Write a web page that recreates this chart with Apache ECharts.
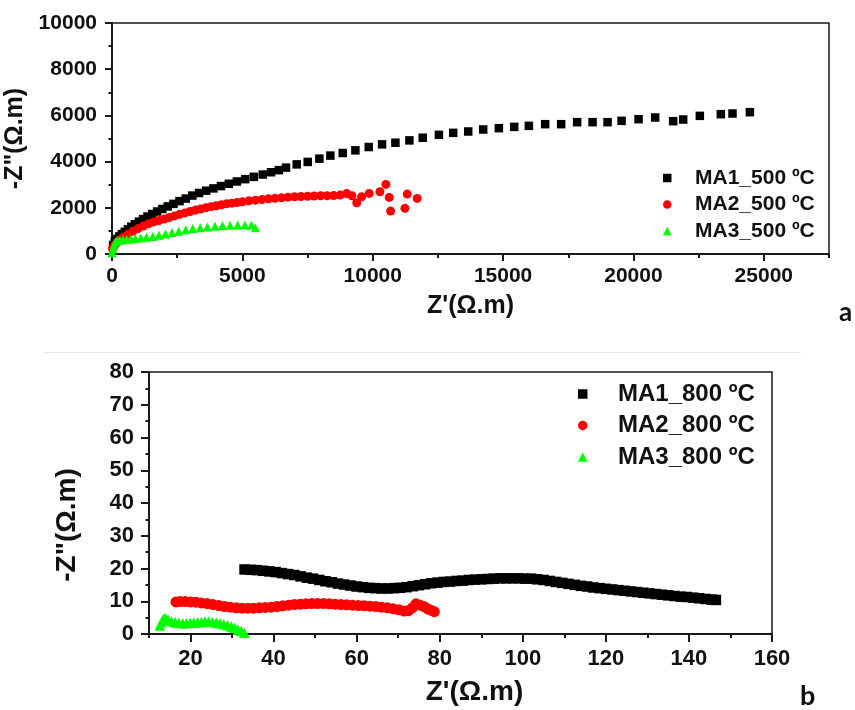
<!DOCTYPE html>
<html>
<head>
<meta charset="utf-8">
<script src="https://cdn.jsdelivr.net/npm/echarts@6/dist/echarts.min.js"></script>
<style>
  html, body { margin: 0; padding: 0; background: #fff; }
  #c { width: 855px; height: 710px; }
</style>
</head>
<body>
<div id="c"></div>
<script>
// ---------- Panel a: impedance at 500 ºC ----------
const ma1_500_re = [40,110,190,280,380,490,610,740,880,1030,1190,1360,1540,1730,1930,2140,2360,2590,2830,3080,
  3340,3610,3890,4180,4480,4790,5110,5440,5780,6100,6400,6675,7084,7506,7954,8376,8849,9335,9847,10358,
  10870,11407,11918,12539,13087,13662,14237,14838,15426,15989,16614,17228,17841,18432,19007,19544,20196,20833,21523,21907,
  22546,23351,23799,24466];
const ma1_500_im = [390,530,650,760,860,960,1070,1180,1290,1400,1510,1620,1730,1840,1950,2060,2170,2290,2400,2530,
  2640,2740,2840,2940,3040,3140,3240,3340,3440,3540,3630,3740,3880,3986,4129,4260,4373,4488,4631,4746,
  4817,4918,5032,5158,5244,5303,5390,5447,5504,5547,5620,5620,5707,5707,5707,5765,5836,5909,5750,5822,
  5980,6053,6082,6139];

const ma2_500_re = [20,100,200,320,460,620,800,1000,1200,1400,1600,1800,2000,2200,2400,2600,2800,3000,3200,3400,
  3600,3800,4000,4200,4400,4600,4800,5000,5250,5500,5750,6000,6250,6500,6750,7000,7250,7500,7750,8000,
  8250,8500,8750,9003,9200,9387,9573,9866,10276,10506,10633,10686,11235,11323,11706];
const ma2_500_im = [230,380,500,620,740,860,980,1100,1210,1310,1390,1450,1510,1580,1650,1720,1780,1840,1900,1950,
  2000,2050,2090,2130,2170,2200,2230,2260,2300,2330,2360,2390,2410,2430,2460,2480,2490,2500,2510,2520,
  2520,2530,2550,2620,2520,2218,2479,2624,2694,3013,2451,1859,1976,2594,2408];

const ma3_500_re = [0,40,80,130,200,300,420,560,720,900,1100,1320,1560,1800,2050,2300,2560,2830,3100,3380,
  3660,3950,4240,4530,4820,5100,5350,5500];
const ma3_500_im = [50,220,380,520,580,600,620,630,650,670,690,720,760,810,870,930,990,1050,1100,1140,
  1170,1200,1230,1250,1260,1260,1240,1140];

// ---------- Panel b: impedance at 800 ºC ----------
const ma1_800_re = [33,34.5,36,37.5,39,40.5,42,43.5,45,46.5,48,49.5,51,52.5,54,55.5,57,58.5,60,61.5,
  63,64.5,66,67.5,69,70.5,72,73.5,75,76.5,78,79.5,81,82.5,84,85.5,87,88.5,90,91.5,
  93,94.5,96,97.5,99,100.5,102,103.5,105,106.5,108,109.5,111,112.5,114,115.5,117,118.5,120,121.5,
  123,124.5,126,127.5,129,130.5,132,133.5,135,136.5,138,139.5,141,142.5,144,145.5,146.5];
const ma1_800_im = [19.7,19.6,19.5,19.3,19.1,18.9,18.6,18.3,18.0,17.6,17.2,16.9,16.5,16.1,15.8,15.4,15.1,14.8,14.5,14.3,
  14.1,14.0,13.9,13.9,14.0,14.1,14.3,14.6,14.9,15.2,15.5,15.7,15.9,16.0,16.2,16.3,16.5,16.6,16.7,16.8,
  16.9,17.0,17.0,17.0,17.0,16.9,16.9,16.7,16.5,16.2,15.9,15.6,15.3,15.0,14.7,14.5,14.2,14.0,13.8,13.6,
  13.4,13.2,13.0,12.8,12.6,12.4,12.2,12.0,11.8,11.6,11.4,11.3,11.1,10.9,10.7,10.5,10.4];

const ma2_800_re = [16.5,17.5,18.7,20,21.3,22.6,24,25.4,26.8,28.2,29.6,31,32.4,33.8,35.2,36.6,38,39.4,40.8,42.2,
  43.6,45,46.4,47.8,49.2,50.6,52,53.4,54.8,56.2,57.6,59,60.4,61.8,63.2,64.6,66,67.4,68.8,70.2,
  71.4,72.4,73.4,74.3,75.3,76.3,77.2,78.0,78.7];
const ma2_800_im = [9.8,9.9,9.9,9.8,9.7,9.5,9.3,9.0,8.7,8.4,8.2,8.0,7.9,7.9,7.9,8.0,8.1,8.2,8.4,8.6,
  8.8,9.0,9.1,9.2,9.3,9.3,9.3,9.2,9.1,9.0,8.9,8.8,8.7,8.6,8.5,8.4,8.2,8.0,7.7,7.4,
  7.0,7.1,8.0,9.2,8.8,8.3,7.6,7.2,6.8];

const ma3_800_re = [12.6,13.0,13.4,13.9,14.6,15.4,16.3,17.2,18.1,19.0,19.9,20.8,21.7,22.6,23.5,24.4,25.3,26.2,27.1,28.0,
  28.9,29.8,30.6,31.4,32.2,33.0];
const ma3_800_im = [2.6,3.6,4.5,4.9,4.4,3.9,3.6,3.4,3.3,3.3,3.4,3.5,3.6,3.7,3.8,3.8,3.7,3.5,3.3,3.0,
  2.7,2.3,1.9,1.4,0.9,0.4];

// Tick positions
const topXMajor = [0, 5000, 10000, 15000, 20000, 25000];
const botXMajor = [20, 40, 60, 80, 100, 120, 140, 160];

const names500 = ['MA1_500 ºC', 'MA2_500 ºC', 'MA3_500 ºC'];
const names800 = ['MA1_800 ºC', 'MA2_800 ºC', 'MA3_800 ºC'];

const FONT = '"Liberation Sans", Arial, Helvetica, sans-serif';
const INK = '#111';
const zip = (xs, ys) => xs.map((x, i) => [x, ys[i]]);
const plain = v => String(v);

const lineStyle = { color: '#1a1a1a', width: 2 };
const tickLabel = (size, margin) => ({ fontSize: size, fontWeight: 'bold', color: INK, fontFamily: FONT, margin: margin, formatter: plain });
const titleStyle = (size, extra) => Object.assign({ fontSize: size, fontWeight: 'bold', color: INK, fontFamily: FONT }, extra || {});

const chart = echarts.init(document.getElementById('c'), null, { renderer: 'canvas' });

chart.setOption({
  animation: false,
  backgroundColor: '#fff',
  textStyle: { fontFamily: FONT },
  grid: [
    { left: 112, top: 23, width: 717, height: 231, show: true, borderColor: '#1a1a1a', borderWidth: 1.5,
      containLabel: false, outerBoundsMode: 'none' },
    { left: 149, top: 372, width: 623, height: 262, show: true, borderColor: '#1a1a1a', borderWidth: 1.5,
      containLabel: false, outerBoundsMode: 'none' }
  ],
  xAxis: [
    { // panel a, major ticks and labels
      gridIndex: 0, type: 'value', min: 0, max: 27500, interval: 5000, position: 'bottom',
      axisLine: { show: true, onZero: false, lineStyle: lineStyle },
      axisTick: { show: true, length: 7, lineStyle: lineStyle, customValues: topXMajor },
      axisLabel: Object.assign(tickLabel(21, 12), { customValues: topXMajor }),
      splitLine: { show: false },
      name: "Z'(Ω.m)", nameLocation: 'middle', nameGap: 40, nameTextStyle: titleStyle(25)
    },
    { // panel a, minor ticks
      gridIndex: 0, type: 'value', min: 0, max: 27500, interval: 2500, position: 'bottom',
      axisLine: { show: false }, axisTick: { show: true, length: 4, lineStyle: lineStyle },
      axisLabel: { show: false }, splitLine: { show: false }
    },
    { // panel b, major ticks and labels
      gridIndex: 1, type: 'value', min: 10, max: 160, interval: 10, position: 'bottom',
      axisLine: { show: true, onZero: false, lineStyle: lineStyle },
      axisTick: { show: true, length: 8, lineStyle: lineStyle, customValues: botXMajor },
      axisLabel: Object.assign(tickLabel(22, 14), { customValues: botXMajor }),
      splitLine: { show: false },
      name: "Z'(Ω.m)", nameLocation: 'middle', nameGap: 44,
      nameTextStyle: titleStyle(28, { padding: [0, 0, 0, 28] })
    },
    { // panel b, minor ticks
      gridIndex: 1, type: 'value', min: 10, max: 160, interval: 10, position: 'bottom',
      axisLine: { show: false }, axisTick: { show: true, length: 4, lineStyle: lineStyle },
      axisLabel: { show: false }, splitLine: { show: false }
    }
  ],
  yAxis: [
    {
      gridIndex: 0, type: 'value', min: 0, max: 10000, interval: 2000, position: 'left',
      axisLine: { show: true, onZero: false, lineStyle: lineStyle },
      axisTick: { show: true, length: 7, lineStyle: lineStyle },
      minorTick: { show: true, splitNumber: 2, length: 3.5, lineStyle: lineStyle },
      axisLabel: tickLabel(21, 15),
      splitLine: { show: false }, minorSplitLine: { show: false },
      name: '-Z"(Ω.m)', nameLocation: 'middle', nameGap: 74, nameTextStyle: titleStyle(25)
    },
    {
      gridIndex: 1, type: 'value', min: 0, max: 80, interval: 10, position: 'left',
      axisLine: { show: true, onZero: false, lineStyle: lineStyle },
      axisTick: { show: true, length: 8, lineStyle: lineStyle },
      minorTick: { show: true, splitNumber: 2, length: 3.5, lineStyle: lineStyle },
      axisLabel: tickLabel(22, 15),
      splitLine: { show: false }, minorSplitLine: { show: false },
      name: '-Z"(Ω.m)', nameLocation: 'middle', nameGap: 68,
      nameTextStyle: titleStyle(28, { padding: [0, 44, 0, 0] })
    }
  ],
  legend: [
    {
      data: names500, orient: 'vertical', left: 663, top: 166, padding: 0,
      itemWidth: 8.5, itemHeight: 8.5, itemGap: 2.5,
      textStyle: { fontSize: 21, fontWeight: 'bold', color: INK, fontFamily: FONT, lineHeight: 24, padding: [0, 0, 0, 18.5] }
    },
    {
      data: names800, orient: 'vertical', left: 578, top: 380, padding: 0,
      itemWidth: 9.5, itemHeight: 9.5, itemGap: 3.5,
      textStyle: { fontSize: 24, fontWeight: 'bold', color: INK, fontFamily: FONT, lineHeight: 28, padding: [0, 0, 0, 25.5] }
    }
  ],
  series: [
    { name: names500[0], type: 'scatter', xAxisIndex: 0, yAxisIndex: 0, symbol: 'rect', symbolSize: 8.5,
      itemStyle: { color: '#000', opacity: 1 }, data: zip(ma1_500_re, ma1_500_im) },
    { name: names500[1], type: 'scatter', xAxisIndex: 0, yAxisIndex: 0, symbol: 'circle', symbolSize: 9,
      itemStyle: { color: '#ff0000', opacity: 1 }, data: zip(ma2_500_re, ma2_500_im) },
    { name: names500[2], type: 'scatter', xAxisIndex: 0, yAxisIndex: 0, symbol: 'triangle', symbolSize: 9,
      itemStyle: { color: '#00ff00', opacity: 1 }, data: zip(ma3_500_re, ma3_500_im) },
    { name: names800[0], type: 'scatter', xAxisIndex: 2, yAxisIndex: 1, symbol: 'rect', symbolSize: 10.5,
      itemStyle: { color: '#000', opacity: 1 }, data: zip(ma1_800_re, ma1_800_im) },
    { name: names800[1], type: 'scatter', xAxisIndex: 2, yAxisIndex: 1, symbol: 'circle', symbolSize: 11,
      itemStyle: { color: '#ff0000', opacity: 1 }, data: zip(ma2_800_re, ma2_800_im) },
    { name: names800[2], type: 'scatter', xAxisIndex: 2, yAxisIndex: 1, symbol: 'triangle', symbolSize: 10.5,
      itemStyle: { color: '#00ff00', opacity: 1 }, data: zip(ma3_800_re, ma3_800_im) }
  ],
  graphic: [
    { type: 'line', shape: { x1: 44, y1: 352.5, x2: 801, y2: 352.5 }, style: { stroke: '#e6e6e6', lineWidth: 1 }, silent: true },
    { type: 'text', left: 839, top: 300, style: { text: 'a', font: 'bold 26px Lato, "Open Sans", sans-serif', fill: INK } },
    { type: 'text', left: 800, top: 683, style: { text: 'b', font: 'bold 27px Lato, "Open Sans", sans-serif', fill: INK } }
  ]
});
</script>
</body>
</html>
